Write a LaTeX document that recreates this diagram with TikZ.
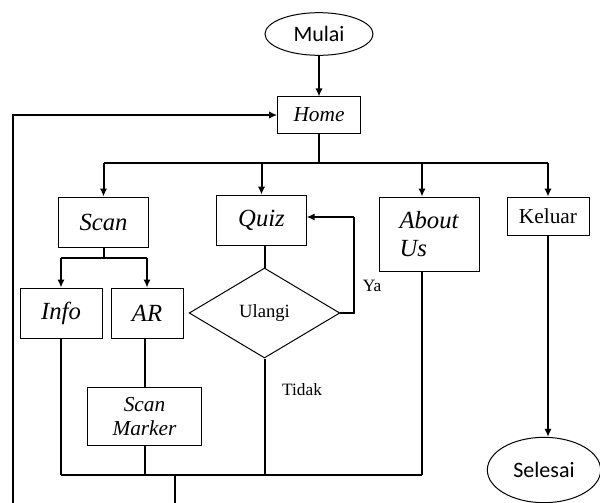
\documentclass[tikz,border=0pt]{standalone}
\usepackage{fontspec}
\setmainfont{Liberation Serif}
\newfontfamily\calibri{Carlito}
\usetikzlibrary{arrows, arrows.meta, positioning, calc, shapes, fit}

\begin{document}
\begin{tikzpicture}[x=0.75pt,y=-0.75pt,line width=1.5pt,>={Latex[length=6pt,width=5.5pt]},
        box/.style={draw,line width=0.75pt,inner sep=0pt,font=\fontsize{18.5pt}{21pt}\selectfont\itshape},
        plainbox/.style={box,font=\fontsize{16pt}{18pt}\selectfont},
        term/.style={draw,ellipse,line width=0.75pt,inner sep=0pt,font=\calibri\fontsize{16.5pt}{18pt}\selectfont},
        lbl/.style={inner sep=0pt,font=\fontsize{13pt}{15pt}\selectfont}]
        \useasboundingbox (0,0) rectangle (600,503);
        \node[term,minimum width=81pt,minimum height=32pt] (mulai) at (319,34) {Mulai};
        \node[box,font=\fontsize{16pt}{18pt}\selectfont\itshape,minimum width=62pt,minimum height=27pt] (home) at (319,115) {Home};
        \node[box,minimum width=67pt,minimum height=37.5pt] (scan) at (103.5,222) {Scan};
        \node[box,minimum width=67pt,minimum height=38pt] (quiz) at (261.5,220.5) {Quiz};
        \node[box,align=left,minimum width=75pt,minimum height=55.5pt] (about) at (429,234) {About\\Us};
        \node[plainbox,minimum width=61.5pt,minimum height=29pt] (keluar) at (548,216.5) {Keluar};
        \node[box,minimum width=61.5pt,minimum height=37.5pt] (info) at (61,313) {Info};
        \node[box,minimum width=54pt,minimum height=37.5pt] (ar) at (147,313) {AR};
        \node[draw,diamond,line width=0.75pt,inner sep=0pt,aspect=1.68,minimum width=113pt,minimum height=67.5pt,
              font=\fontsize{14pt}{16pt}\selectfont] (ulangi) at (264.5,313) {Ulangi};
        \node[box,align=center,font=\fontsize{16pt}{18pt}\selectfont\itshape,minimum width=86pt,minimum height=44pt] (marker) at (144.5,416.5) {Scan\\Marker};
        \node[term,minimum width=85pt,minimum height=49pt] (selesai) at (544,470) {Selesai};
        \node[lbl] (ya) at (372,286) {Ya};
        \node[lbl] (tidak) at (302,390) {Tidak};

        \coordinate (top) at (319,163);
        \coordinate (ab) at (422,163);
        \coordinate (sb) at (103.5,258);
        \coordinate (yaturn) at (354,217);
        \coordinate (bot) at (175,475);
        \coordinate (back) at (13,503);

        \draw[->] (mulai) -- (home);
        \draw (home) -- (top);
        \draw (top -| scan) -- (top -| keluar);
        \draw[->] (top -| scan) -- (scan);
        \draw[->] (top -| quiz) -- (quiz);
        \draw[->] (ab) -- (ab |- about.north);
        \draw[->] (top -| keluar) -- (keluar);
        \draw[->] (keluar.south) -- (keluar.south |- selesai.north);
        \draw (scan) -- (sb);
        \draw (sb -| info) -- (sb -| ar);
        \draw[->] (sb -| info) -- (info);
        \draw[->] (sb -| ar) -- (ar);
        \draw (ar.south -| marker) -- (marker);
        \draw (ulangi.north |- quiz.south) -- (ulangi.north);
        \draw (ulangi.east) -| (yaturn);
        \draw[->] (yaturn) -- (yaturn -| quiz.east);
        \draw (info) -- (info |- bot);
        \draw (marker) -- (marker |- bot);
        \draw (ulangi) -- (ulangi |- bot);
        \draw (ab |- about.south) -- (ab |- bot);
        \draw (info |- bot) -- (ab |- bot);
        \draw (bot) -- (bot |- back);
        \draw[->] (back) |- (home);
    \end{tikzpicture}
\end{document}
